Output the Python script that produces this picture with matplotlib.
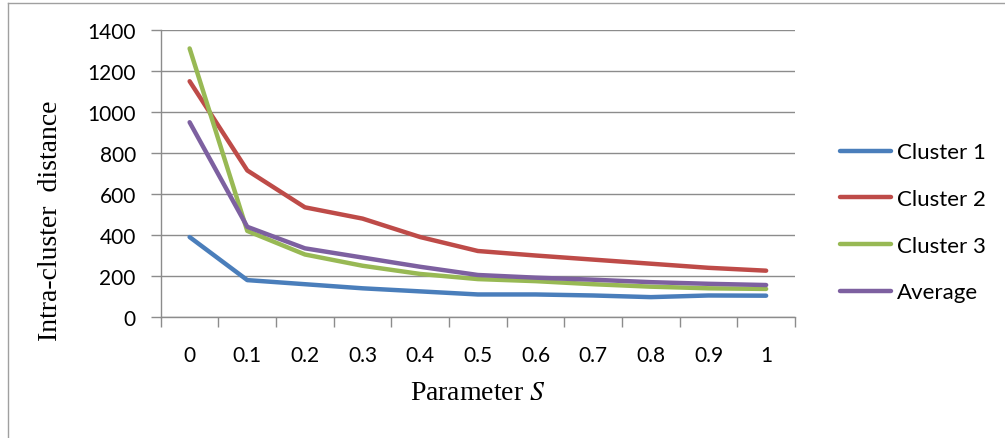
import matplotlib.pyplot as plt
from matplotlib.lines import Line2D

plt.rcParams['mathtext.fontset'] = 'stix'

s_labels = ['0', '0.1', '0.2', '0.3', '0.4', '0.5', '0.6', '0.7', '0.8', '0.9', '1']
cluster1 = [390, 180, 160, 140, 125, 110, 110, 105, 97, 105, 104]
cluster2 = [1150, 715, 535, 480, 390, 322, 300, 280, 260, 240, 226]
cluster3 = [1310, 420, 305, 250, 210, 185, 175, 160, 148, 140, 137]
average = [950, 440, 335, 290, 245, 205, 192, 182, 170, 162, 156]

series = [('Cluster 1', cluster1, '#4A7EBB'),
          ('Cluster 2', cluster2, '#BE4B48'),
          ('Cluster 3', cluster3, '#98B954'),
          ('Average', average, '#7D60A0')]

fig = plt.figure(figsize=(10.05, 4.39), dpi=100)
ax = fig.add_axes([0.160, 0.2756, 0.631, 0.6538])

xs = list(range(len(s_labels)))
for name, vals, col in series:
    ax.plot(xs, vals, color=col, lw=3.2, solid_capstyle='round', label=name)

grid_col = '#8c8c8c'
tick_font = {'family': 'Lato', 'size': 15}
ax.set_xlim(-0.5, len(s_labels) - 0.5)
ax.set_ylim(0, 1400)
ax.set_yticks(range(0, 1401, 200))
ax.yaxis.grid(True, color=grid_col, lw=1)
ax.set_axisbelow(True)

ax.set_xticks([i - 0.5 for i in range(len(s_labels) + 1)])
ax.set_xticklabels([])
ax.set_xticks(xs, minor=True)
ax.set_xticklabels(s_labels, minor=True, fontdict=tick_font)
ax.tick_params(axis='x', which='minor', length=0, pad=20)
ax.tick_params(axis='x', which='major', length=7, color=grid_col, width=1)
ax.tick_params(axis='y', length=7, color=grid_col, width=1, pad=11)
ax.set_yticklabels([str(v) for v in range(0, 1401, 200)], fontdict=tick_font)

for sp in ['top', 'right']:
    ax.spines[sp].set_visible(False)
for sp in ['left', 'bottom']:
    ax.spines[sp].set_color(grid_col)
    ax.spines[sp].set_linewidth(1)

ax.set_ylabel('Intra-cluster  distance', family='Liberation Serif', fontsize=20)
ax.yaxis.set_label_coords(-0.155, 0.34)
ax.set_xlabel('Parameter $S$', family='Liberation Serif', fontsize=20, labelpad=11)

ax.legend(loc='center left', bbox_to_anchor=(1.04, 0.33), frameon=False,
          prop={'family': 'Lato', 'size': 16}, handlelength=2.3, handletextpad=0.25,
          labelspacing=1.2)

fig.add_artist(Line2D([8 / 1005, 8 / 1005], [0, 1 - 4 / 439], color='#a0a0a0', lw=1))
fig.add_artist(Line2D([8 / 1005, 1], [1 - 4 / 439, 1 - 4 / 439], color='#a0a0a0', lw=1))

fig.savefig('out.png')
